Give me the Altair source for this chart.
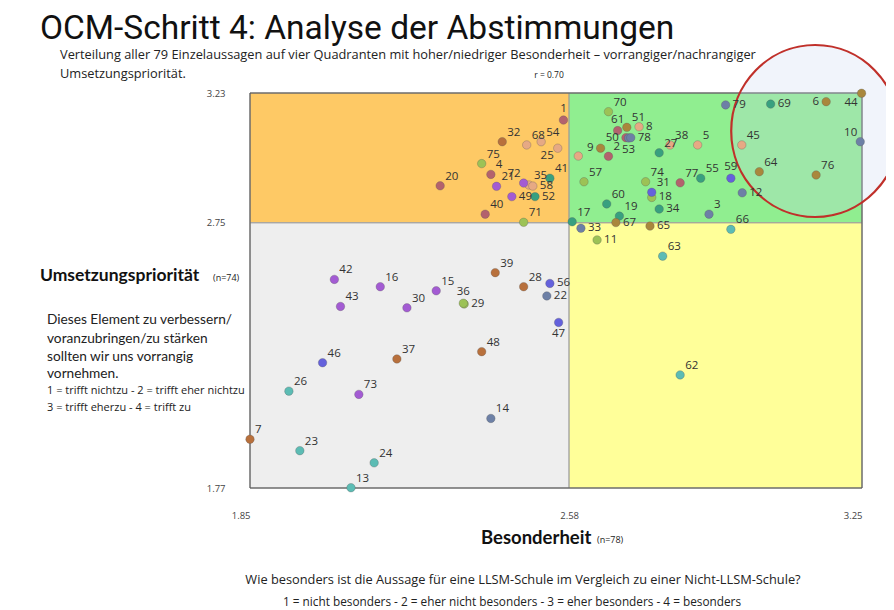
import altair as alt
import pandas as pd

# ---------------- data ----------------
labels = ["1", "2", "3", "4", "5", "6", "7", "8", "9", "10",
          "11", "12", "13", "14", "15", "16", "17", "18", "19", "20",
          "21", "22", "23", "24", "25", "26", "27", "28", "29", "30",
          "31", "32", "33", "34", "35", "36", "37", "38", "39", "40",
          "41", "42", "43", "44", "45", "46", "47", "48", "49", "50",
          "51", "52", "53", "54", "55", "56", "57", "58", "59", "60",
          "61", "62", "63", "64", "65", "66", "67", "68", "69", "70",
          "71", "72", "73", "74", "75", "76", "77", "78", "79", ""]
besonderheit = [2.567, 2.670, 2.900, 2.401, 2.874, 3.168, 1.850, 2.740, 2.652, 3.246,
                2.644, 2.976, 2.081, 2.401, 2.276, 2.148, 2.587, 2.769, 2.695, 2.285,
                2.414, 2.529, 1.964, 2.134, 2.554, 1.939, 2.786, 2.476, 2.340, 2.209,
                2.769, 2.427, 2.607, 2.786, 2.488, 2.338, 2.186, 2.811, 2.411, 2.388,
                2.536, 2.043, 2.057, 3.249, 2.975, 2.016, 2.556, 2.380, 2.449, 2.710,
                2.712, 2.502, 2.716, 2.516, 2.881, 2.536, 2.614, 2.497, 2.950, 2.666,
                2.691, 2.834, 2.794, 3.015, 2.765, 2.950, 2.687, 2.483, 3.041, 2.670,
                2.476, 2.476, 2.099, 2.755, 2.380, 3.145, 2.834, 2.721, 2.938, 2.601]
prioritaet = [3.130, 2.996, 2.782, 2.929, 3.038, 3.198, 1.950, 3.105, 3.026, 3.050,
              2.687, 2.861, 1.771, 2.027, 2.499, 2.514, 2.754, 2.844, 2.775, 2.887,
              2.885, 2.480, 1.908, 1.863, 3.026, 2.128, 3.009, 2.514, 2.450, 2.436,
              2.863, 3.050, 2.730, 2.801, 2.890, 2.453, 2.247, 3.038, 2.566, 2.782,
              2.915, 2.541, 2.441, 3.229, 3.038, 2.233, 2.382, 2.274, 2.847, 3.065,
              3.103, 2.847, 3.064, 3.050, 2.915, 2.526, 2.902, 2.886, 2.915, 2.820,
              3.091, 2.188, 2.627, 2.939, 2.738, 2.726, 2.751, 3.038, 3.189, 3.161,
              2.752, 2.897, 2.116, 2.902, 2.969, 2.927, 2.898, 3.065, 3.186, 2.997]
gruppe = ["rose", "rose", "slate", "rose", "peach", "olive", "rust", "peach", "olive", "slate",
          "lime", "slate", "aqua", "slate", "purple", "purple", "teal", "lime", "teal", "rose",
          "purple", "slate", "aqua", "aqua", "peach", "aqua", "teal", "rust", "lime", "purple",
          "blue", "rust", "slate", "teal", "peach", "lime", "rust", "peach", "rust", "rose",
          "teal", "purple", "purple", "olive", "peach", "blue", "blue", "rust", "purple", "rose",
          "olive", "teal", "slate", "peach", "teal", "blue", "lime", "peach", "blue", "teal",
          "rose", "aqua", "aqua", "olive", "olive", "aqua", "olive", "peach", "teal", "lime",
          "lime", "purple", "purple", "lime", "lime", "olive", "rose", "slate", "slate", "peach"]
label_pos = ["u", "ur", "ur", "ur", "ur", "l", "ur", "r", "l", "ul",
             "r", "r", "ur", "ur", "ur", "ur", "ur", "r", "ur", "ur",
             "ur", "r", "ur", "ur", "ll", "ur", "ur", "ur", "r", "ur",
             "ur", "ur", "r", "r", "ur", "u", "ur", "ur", "ur", "ur",
             "ur", "ur", "ur", "dl", "ur", "ur", "d", "ur", "r", "l",
             "ur", "r", "d", "ur", "ur", "r", "ur", "r", "u", "ur",
             "u", "ur", "ur", "ur", "r", "ur", "r", "ur", "r", "ur",
             "ur", "ul", "ur", "ur", "ur", "ur", "ur", "r", "r", "ur"]

group_names = ["rose", "rust", "peach", "purple", "teal", "lime", "blue", "slate", "aqua", "olive"]
group_colors = ["#b3626d", "#b8703c", "#e6a984", "#a35bd3", "#38a07f", "#9cc256",
                "#6461dc", "#6d80a6", "#5cbcb4", "#a9873c"]

quad_x = [1.85, 2.58, 1.85, 2.58]
quad_x2 = [2.58, 3.25, 2.58, 3.25]
quad_y = [2.75, 2.75, 1.77, 1.77]
quad_y2 = [3.23, 3.23, 2.75, 2.75]
quad_fill = ["#fec965", "#90ee90", "#eeeeee", "#ffff99"]

x_ticks = [1.85, 2.58, 3.25]
y_ticks = [1.77, 2.75, 3.23]

highlight_x = [3.143]
highlight_y = [3.0895]

# ---------------- chart ----------------
W, H = 612, 395
xs = alt.Scale(domain=[1.85, 3.25], nice=False, zero=False)
ys = alt.Scale(domain=[1.77, 3.23], nice=False, zero=False)

pts = pd.DataFrame({"label": labels, "b": besonderheit, "p": prioritaet,
                    "grp": gruppe, "pos": label_pos})
quads = pd.DataFrame({"x": quad_x, "x2": quad_x2, "y": quad_y, "y2": quad_y2, "fill": quad_fill})
frame = pd.DataFrame({"x": [x_ticks[0]], "x2": [x_ticks[-1]], "y": [y_ticks[0]], "y2": [y_ticks[-1]]})
hl = pd.DataFrame({"x": highlight_x, "y": highlight_y})

x_axis = alt.Axis(values=x_ticks, format=".2f", title=None, grid=False, domain=False,
                  ticks=False, tickSize=0, labelPadding=22, labelFontSize=9.5,
                  labelColor="#444", labelFont="Open Sans", labelFlush=False,
                  labelAlign={"condition": {"test": "datum.value < 2 || datum.value > 3",
                                            "value": "right"},
                              "value": "center"})
y_axis = alt.Axis(values=y_ticks, format=".2f", title=None, grid=False, domain=False,
                  ticks=False, tickSize=0, labelPadding=25, labelFontSize=9.5,
                  labelColor="#444", labelFont="Open Sans", labelFlush=False)


def X(field):
    return alt.X(field, scale=xs, axis=x_axis, title=None)


def Y(field):
    return alt.Y(field, scale=ys, axis=y_axis, title=None)


quad_layer = alt.Chart(quads).mark_rect(stroke="#9a9a9a", strokeWidth=1).encode(
    x=X("x:Q"), x2="x2:Q", y=Y("y:Q"), y2="y2:Q",
    color=alt.Color("fill:N", scale=None),
)

frame_layer = alt.Chart(frame).mark_rect(fillOpacity=0, stroke="#555555", strokeWidth=1).encode(
    x=X("x:Q"), x2="x2:Q", y=Y("y:Q"), y2="y2:Q",
)

k = 0.5523
rx, ry = 0.977, 1.0
ell_path = (f"M {rx} 0 C {rx} {ry*k} {rx*k} {ry} 0 {ry} "
            f"C {-rx*k} {ry} {-rx} {ry*k} {-rx} 0 "
            f"C {-rx} {-ry*k} {-rx*k} {-ry} 0 {-ry} "
            f"C {rx*k} {-ry} {rx} {-ry*k} {rx} 0 Z")

ellipse_layer = alt.Chart(hl).mark_point(
    shape=ell_path, size=172 * 172, filled=True, fill="#c9d3ee", fillOpacity=0.25,
    stroke="#c0302a", strokeWidth=2.2, opacity=1
).encode(x=X("x:Q"), y=Y("y:Q"))

point_layer = alt.Chart(pts).mark_circle(size=72, opacity=1, stroke="#555555",
                                         strokeWidth=0.6, strokeOpacity=0.5).encode(
    x=X("b:Q"), y=Y("p:Q"),
    color=alt.Color("grp:N", scale=alt.Scale(domain=group_names, range=group_colors), legend=None),
)

pos_style = {
    "ur": ("left", 5, -9),
    "r": ("left", 7, 0),
    "l": ("right", -7, 0),
    "u": ("center", 0, -11),
    "ul": ("right", -3, -9),
    "d": ("center", 0, 12),
    "dl": ("right", -4, 10),
    "ll": ("right", -4, 8),
}

label_layers = []
for key, (al, dx, dy) in pos_style.items():
    label_layers.append(
        alt.Chart(pts).transform_filter(alt.datum.pos == key).mark_text(
            align=al, baseline="middle", dx=dx, dy=dy, fontSize=11.5,
            font="Open Sans", color="#333333"
        ).encode(x=X("b:Q"), y=Y("p:Q"), text="label:N")
    )


def txt(text, px, py, size=12, weight="normal", font="Open Sans", align="left",
        color="#222222"):
    return alt.Chart(pd.DataFrame({"t": [text]})).mark_text(
        align=align, baseline="middle", fontSize=size, fontWeight=weight,
        font=font, color=color
    ).encode(x=alt.value(px - 250), y=alt.value(py - 93), text="t:N")


annotations = [
    txt("OCM-Schritt 4: Analyse der Abstimmungen", 40, 29, 33.5, font="Roboto", color="#111111"),
    txt("Verteilung aller 79 Einzelaussagen auf vier Quadranten mit  hoher/niedriger  Besonderheit \u2013 vorrangiger/nachrangiger",
        60, 55, 12.8),
    txt("Umsetzungspriorität.", 60, 74, 12.8),
    txt("r = 0.70", 549, 75, 8.5, align="center"),
    txt("Umsetzungspriorität", 40, 276, 17.5, weight="bold", font="Lato", color="#111111"),
    txt("(n=74)", 213, 278, 9),
    txt("Dieses Element zu verbessern/", 47, 320, 13.7, font="Lato"),
    txt("voranzubringen/zu  stärken", 47, 339, 13.7, font="Lato"),
    txt("sollten wir  uns vorrangig", 47, 357, 13.7, font="Lato"),
    txt("vornehmen.", 47, 374, 13.7, font="Lato"),
    txt("1 = trifft nichtzu - 2 = trifft eher nichtzu", 47, 391, 11),
    txt("3 = trifft eherzu - 4 = trifft zu", 47, 408, 11),
    txt("Besonderheit", 481, 538, 18.5, weight="bold", font="Lato", color="#111111"),
    txt("(n=78)", 597, 540, 9),
    txt("Wie besonders ist die Aussage für eine LLSM-Schule im Vergleich zu einer Nicht-LLSM-Schule?",
        523, 580, 12.8, align="center"),
    txt("1 = nicht besonders - 2 = eher nicht besonders - 3 = eher besonders - 4 = besonders",
        512, 602, 11.8, align="center"),
]

chart = alt.layer(
    quad_layer, frame_layer, ellipse_layer, point_layer, *label_layers, *annotations
).properties(
    width=W, height=H,
    autosize=alt.AutoSizeParams(type="none"),
    padding={"left": 242, "top": 85, "right": 24, "bottom": 122},
    background="white",
).configure_view(stroke=None)

chart.save("out.html", embed_options={"renderer": "svg", "actions": False})
